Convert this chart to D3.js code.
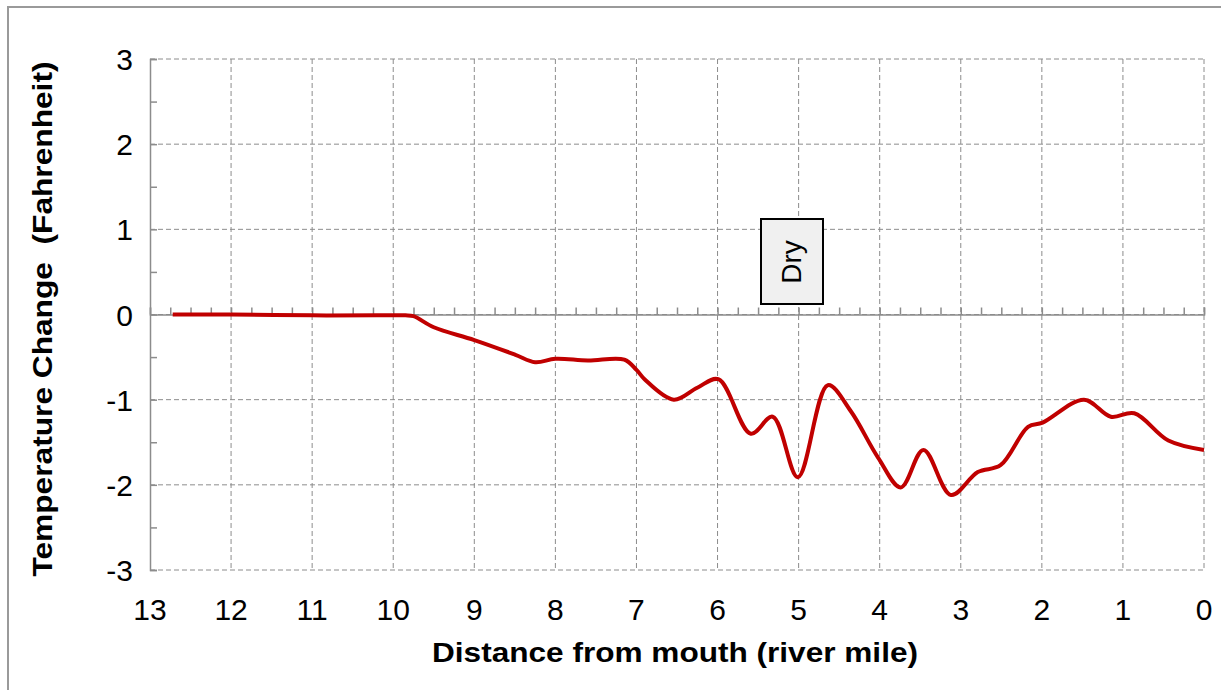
<!DOCTYPE html>
<html>
<head>
<meta charset="utf-8">
<script src="https://cdn.jsdelivr.net/npm/d3@7"></script>
<style>
  body { margin: 0; background: #fff; }
  text { font-family: "Liberation Sans", Arial, sans-serif; }
</style>
</head>
<body>
<div class="chart"></div>
<script>
// river mile (distance from mouth) and temperature change (F)
const miles = [12.72, 12, 11, 10.2, 9.85, 9.75, 9.5, 9.0, 8.5, 8.25, 8.0, 7.6, 7.15, 7.0, 6.9,
               6.54, 6.25, 5.99, 5.59, 5.32, 5.01, 4.64, 4.36, 4.02, 3.74, 3.46, 3.12, 2.79,
               2.51, 2.17, 1.99, 1.48, 1.15, 0.86, 0.44, 0];
const tempChange = [0, 0, -0.01, -0.01, -0.01, -0.02, -0.15, -0.30, -0.47, -0.56, -0.52, -0.54, -0.53, -0.65, -0.76,
                    -1.0, -0.86, -0.76, -1.40, -1.20, -1.91, -0.83, -1.13, -1.68, -2.03, -1.59, -2.12, -1.85,
                    -1.77, -1.32, -1.27, -1.0, -1.20, -1.16, -1.48, -1.59];
const xTicks = [13, 12, 11, 10, 9, 8, 7, 6, 5, 4, 3, 2, 1, 0];
const yTicks = [-3, -2, -1, 0, 1, 2, 3];
const label = "Dry";

function main(){
    const width = 1221;
    const height = 690;
    const left = 150, right = 1204, top = 59, bottom = 570;

    const svg = d3.select('.chart')
        .append('svg')
        .attr('width', width)
        .attr('height', height);

    // outer frame
    svg.append("rect")
        .attr("x", 8).attr("y", 7)
        .attr("width", width + 10).attr("height", height + 10)
        .attr("fill", "none")
        .attr("stroke", "#9a9a9a")
        .attr("stroke-width", 2);

    const x = d3.scaleLinear().domain([13, 0]).range([left, right]);
    const y = d3.scaleLinear().domain([-3, 3]).range([bottom, top]);

    // grid
    svg.append("g").selectAll("line")
        .data(yTicks)
        .enter()
        .append("line")
        .attr("x1", left).attr("x2", right)
        .attr("y1", d => y(d)).attr("y2", d => y(d))
        .attr("stroke", "#8c8c8c")
        .attr("stroke-dasharray", "5,3");
    svg.append("g").selectAll("line")
        .data(xTicks.filter(d => d != 13))
        .enter()
        .append("line")
        .attr("y1", top).attr("y2", bottom)
        .attr("x1", d => x(d)).attr("x2", d => x(d))
        .attr("stroke", "#8c8c8c")
        .attr("stroke-dasharray", "5,3");

    // y axis
    const yAxis = svg.append("g")
        .attr("transform", "translate(" + left + ",0)")
        .call(d3.axisRight(y).tickValues(d3.range(-3, 3.01, 0.5)).tickSize(7).tickFormat(""));
    yAxis.select(".domain").attr("stroke", "#8c8c8c").attr("stroke-width", 1.5);
    yAxis.selectAll(".tick line").attr("stroke", "#8c8c8c").attr("stroke-width", 1.5);

    svg.append("g").selectAll("text")
        .data(yTicks)
        .enter()
        .append("text")
        .text(d => d)
        .attr("x", 133)
        .attr("y", d => y(d) + 11)
        .attr("text-anchor", "end")
        .attr("font-size", "30px");

    // x axis on the zero line
    const xAxis = svg.append("g")
        .attr("transform", "translate(0," + y(0) + ")")
        .call(d3.axisTop(x).tickValues(d3.range(0, 13.01, 0.25)).tickSize(7).tickFormat(""));
    xAxis.select(".domain").attr("stroke", "#8c8c8c").attr("stroke-width", 1.5);
    xAxis.selectAll(".tick line").attr("stroke", "#8c8c8c").attr("stroke-width", 1.5);

    svg.append("g").selectAll("text")
        .data(xTicks)
        .enter()
        .append("text")
        .text(d => d)
        .attr("x", d => x(d))
        .attr("y", 620)
        .attr("text-anchor", "middle")
        .attr("font-size", "30px");

    // titles
    svg.append("text")
        .text("Distance from mouth (river mile)")
        .attr("x", 675)
        .attr("y", 662)
        .attr("text-anchor", "middle")
        .attr("font-size", "28px")
        .attr("font-weight", "bold")
        .attr("textLength", 486)
        .attr("lengthAdjust", "spacingAndGlyphs");

    svg.append("text")
        .text("Temperature Change  (Fahrenheit)")
        .attr("transform", "translate(52," + 319 + ") rotate(-90)")
        .attr("text-anchor", "middle")
        .attr("font-size", "28px")
        .attr("font-weight", "bold")
        .attr("textLength", 515)
        .attr("lengthAdjust", "spacingAndGlyphs")
        .style("white-space", "pre");

    // data line
    const pts = miles.map((m, i) => ({mile: m, t: tempChange[i]}));
    const line = d3.line()
        .x(d => x(d.mile))
        .y(d => y(d.t))
        .curve(d3.curveCatmullRom.alpha(0.5));
    svg.append("path")
        .datum(pts)
        .attr("d", line)
        .attr("fill", "none")
        .attr("stroke", "#c00000")
        .attr("stroke-width", 4)
        .attr("stroke-linejoin", "round");

    // label box
    const box = svg.append("g");
    box.append("rect")
        .attr("x", 761).attr("y", 219)
        .attr("width", 62).attr("height", 85)
        .attr("fill", "#f0f0f0")
        .attr("stroke", "#000")
        .attr("stroke-width", 2);
    box.append("text")
        .text(label)
        .attr("transform", "translate(801,262) rotate(-90)")
        .attr("text-anchor", "middle")
        .attr("font-size", "28px");
}

main();
</script>
</body>
</html>
